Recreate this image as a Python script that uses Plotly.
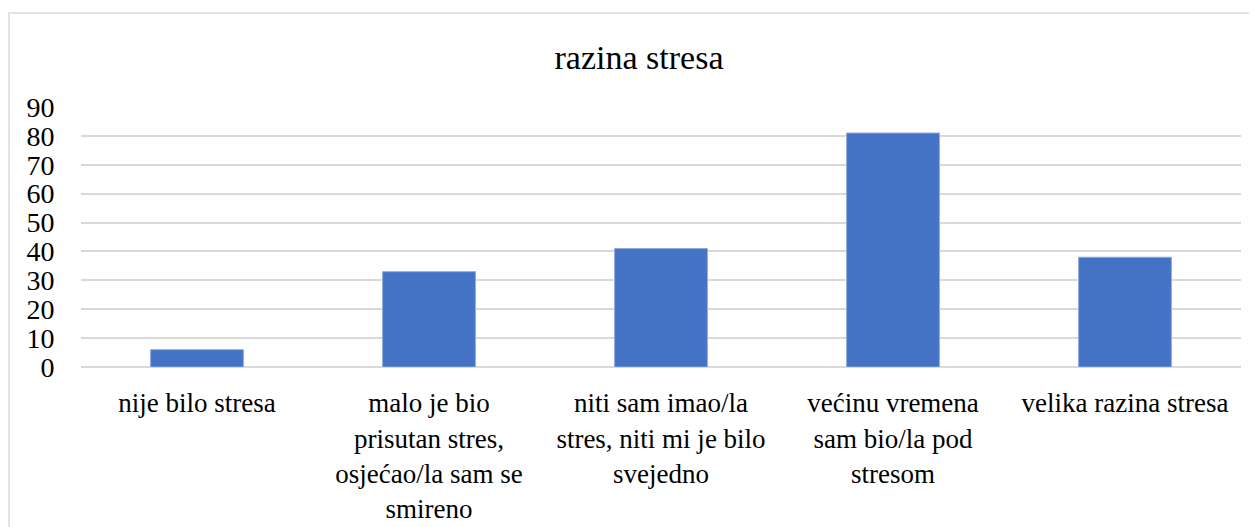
import plotly.graph_objects as go

categories = [
    "nije bilo stresa",
    "malo je bio<br>prisutan stres,<br>osjećao/la sam se<br>smireno",
    "niti sam imao/la<br>stres, niti mi je bilo<br>svejedno",
    "većinu vremena<br>sam bio/la pod<br>stresom",
    "velika razina stresa",
]
values = [6, 33, 41, 81, 38]

serif = "Liberation Serif"

fig = go.Figure(go.Bar(
    x=categories,
    y=values,
    marker=dict(color="#4472C4", line=dict(color="#8FAADC", width=1)),
))

# page body has an 8px margin, so offsets are reduced by 8
fig.update_layout(
    width=1257,
    height=527,
    margin=dict(l=73, r=24, t=99, b=168),
    paper_bgcolor="white",
    plot_bgcolor="white",
    bargap=0.6,
    showlegend=False,
    font=dict(family=serif, color="black", size=27),
    title=dict(
        text="razina stresa",
        x=(639 - 8) / 1257, xanchor="center",
        y=1 - 49 / 527, yanchor="middle",
        font=dict(family=serif, size=34, color="black"),
    ),
    xaxis=dict(
        showgrid=False,
        showline=False,
        ticks="outside",
        ticklen=12,
        tickcolor="rgba(0,0,0,0)",
        tickfont=dict(family=serif, size=27, color="black"),
    ),
    yaxis=dict(
        range=[0, 90],
        dtick=10,
        showgrid=True,
        gridcolor="#D9D9D9",
        gridwidth=1.5,
        zeroline=True,
        zerolinecolor="#D9D9D9",
        zerolinewidth=1.5,
        showline=False,
        ticks="outside",
        ticklen=20,
        tickcolor="rgba(0,0,0,0)",
        tickfont=dict(family=serif, size=28, color="black"),
    ),
    shapes=[dict(
        type="rect", xref="paper", yref="paper",
        x0=(9 - 81) / 1160, x1=1.2,
        y0=-1, y1=(367 - 13) / 260,
        line=dict(color="#D9D9D9", width=1.5),
        fillcolor="rgba(0,0,0,0)",
        layer="below",
    )],
)

fig.write_html("out.html")
